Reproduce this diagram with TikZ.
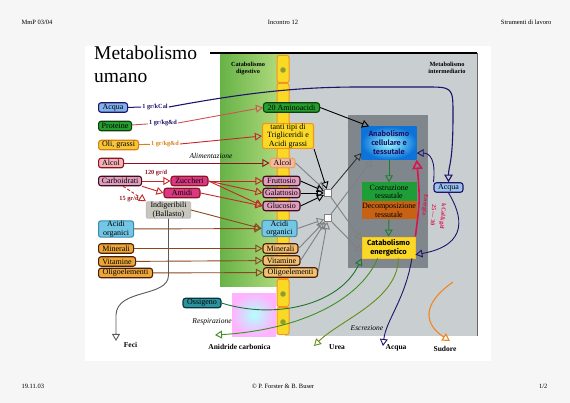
\documentclass[tikz,border=0pt]{standalone}
\usepackage{fontspec}
\setmainfont{Liberation Serif}
\newfontfamily\comicfont{Fira Sans}
\usetikzlibrary{shapes,arrows,positioning}

\definecolor{pagebg}{rgb}{0.965,0.965,0.965}
\definecolor{panelgray}{rgb}{0.79,0.81,0.82}
\definecolor{innergray}{rgb}{0.50,0.53,0.55}
\definecolor{bandgreen}{rgb}{0.40,0.70,0.28}
\definecolor{bandlight}{rgb}{0.74,0.88,0.52}
\definecolor{navy}{rgb}{0.13,0.07,0.42}
\definecolor{waterblue}{rgb}{0.50,0.70,0.92}
\definecolor{protgreen}{rgb}{0.15,0.62,0.18}
\definecolor{leafdark}{rgb}{0.05,0.25,0.05}
\definecolor{oilyellow}{rgb}{0.96,0.78,0.22}
\definecolor{oilorange}{rgb}{0.85,0.50,0.08}
\definecolor{alcpink}{rgb}{0.95,0.70,0.72}
\definecolor{winered}{rgb}{0.55,0.08,0.12}
\definecolor{carbmauve}{rgb}{0.88,0.62,0.75}
\definecolor{plum}{rgb}{0.25,0.05,0.12}
\definecolor{sugarmag}{rgb}{0.85,0.22,0.52}
\definecolor{fibregray}{rgb}{0.78,0.78,0.74}
\definecolor{acidblue}{rgb}{0.45,0.78,0.90}
\definecolor{acidteal}{rgb}{0.20,0.55,0.70}
\definecolor{minorange}{rgb}{0.93,0.65,0.22}
\definecolor{minbrown}{rgb}{0.30,0.12,0.02}
\definecolor{colyellow}{rgb}{0.98,0.85,0.15}
\definecolor{colorange}{rgb}{0.96,0.58,0.10}
\definecolor{cololive}{rgb}{0.55,0.62,0.18}
\definecolor{peach}{rgb}{0.96,0.72,0.62}
\definecolor{anabblue}{rgb}{0.05,0.45,0.85}
\definecolor{buildgreen}{rgb}{0.12,0.62,0.22}
\definecolor{breakbrown}{rgb}{0.78,0.38,0.08}
\definecolor{energyred}{rgb}{0.85,0.08,0.30}
\definecolor{pathgreen}{rgb}{0.12,0.45,0.18}
\definecolor{ureaolive}{rgb}{0.40,0.55,0.10}
\definecolor{sweatorange}{rgb}{0.95,0.52,0.12}
\definecolor{oxteal}{rgb}{0.16,0.58,0.62}
\definecolor{linered}{rgb}{0.78,0.15,0.15}
\definecolor{linebrown}{rgb}{0.55,0.28,0.12}

\newcommand{\boxfont}{\fontsize{8}{8.5}\selectfont}
\newcommand{\tagfont}{\fontsize{6.3}{6.8}\selectfont\bfseries}
\newcommand{\headfont}{\fontsize{6.5}{7}\selectfont}

\tikzstyle{food} = [rectangle, draw, rounded corners=2.5pt, line width=1.1pt,
    inner xsep=1.2pt, inner ysep=0.3pt, minimum height=9.5pt, font=\boxfont, align=center]
\tikzstyle{junction} = [rectangle, draw=gray, line width=1.2pt, fill=white,
    minimum size=7pt, inner sep=0pt]
\tikzstyle{stage} = [rectangle, minimum width=55pt, inner sep=0pt, align=center, font=\boxfont]
\tikzstyle{amount} = [font=\tagfont, inner sep=1pt]
\tikzstyle{outlet} = [font=\fontsize{7.5}{8}\selectfont\bfseries, inner sep=0pt]
\tikzstyle{process} = [font=\fontsize{7.5}{8}\selectfont\itshape, inner sep=0pt]
\tikzstyle{energy} = [font=\fontsize{6}{6.5}\selectfont\bfseries, text=energyred, inner sep=0pt, rotate=-95]
\tikzstyle{line} = [draw, line width=0.9pt, -open triangle 60]

\begin{document}
\begin{tikzpicture}[x=1pt, y=-1pt]
    \useasboundingbox (0,0) rectangle (570,403);
    % Background
    \fill[pagebg] (0,0) rectangle (570,403);
    \fill[white] (85,46) rectangle (491,361);
    \fill[panelgray] (285,54) rectangle (477,336);
    \shade[left color=bandgreen, right color=bandlight] (220,54) rectangle (289,287);
    \shade[inner color=cyan!30, outer color=magenta!30] (232,293) rectangle (276,336);
    \fill[innergray] (348,115) rectangle (428,268);
    \draw[line width=1.3pt] (210,53) -- (477,53);
    \draw[line width=1pt, black!60] (477,53) -- (477,336);
    \foreach \y in {55,83,...,307}
        \draw[colorange, fill=colyellow, line width=1pt, rounded corners=2pt] (277,\y+0.5) rectangle (289,\y+27.5);
    \foreach \y in {70,294,322}
        \fill[cololive] (283,\y) circle (2.8);

    % Titles
    \node[anchor=north west, inner sep=0pt, align=left, font=\fontsize{19.5}{23}\selectfont] (title) at (94,46) {Metabolismo\\umano};
    \node[font=\fontsize{6.3}{7}\selectfont\bfseries, align=center] (digest) at (248,69) {Catabolismo\\digestivo};
    \node[font=\fontsize{6.3}{7}\selectfont\bfseries, align=center] (interm) at (447,68) {Metabolismo\\intermediario};
    \node[font=\headfont, anchor=west] (course) at (18,22) {MmP 03/04};
    \node[font=\headfont] (meeting) at (283,22) {Incontro 12};
    \node[font=\headfont, anchor=east] (topic) at (555,22) {Strumenti di lavoro};
    \node[font=\headfont, anchor=west] (date) at (18,386) {19.11.03};
    \node[font=\headfont] (authors) at (283,386) {© P. Forster \& B. Buser};
    \node[font=\headfont, anchor=east] (page) at (551,386) {1/2};

    % Place nodes: food intake
    \node[food, fill=waterblue, draw=navy, anchor=west, minimum width=29pt] (acqua) at (98,107.5) {Acqua};
    \node[food, fill=protgreen, draw=leafdark, anchor=west, minimum width=33pt] (proteine) at (98,126) {Proteine};
    \node[food, fill=oilyellow, draw=oilorange, anchor=west, minimum width=40pt] (oli) at (98,145) {Oli, grassi};
    \node[food, fill=alcpink, draw=winered, anchor=west, minimum width=25pt] (alcol) at (98,163) {Alcol};
    \node[food, fill=carbmauve, draw=plum, anchor=west, minimum width=43pt] (carbo) at (98,181) {Carboidrati};
    \node[food, fill=sugarmag, draw=winered, minimum width=37pt] (zuccheri) at (189.5,181) {Zuccheri};
    \node[food, fill=sugarmag, draw=winered, minimum width=36pt] (amidi) at (182,193) {Amidi};
    \node[food, fill=fibregray, draw=gray!50, rounded corners=1pt, minimum width=44pt] (indig) at (168.5,210) {Indigeribili\\(Ballasto)};
    \node[food, fill=acidblue, draw=acidteal, anchor=west, minimum width=35pt] (acidi) at (98,229) {Acidi\\organici};
    \node[food, fill=minorange, draw=minbrown, anchor=west, minimum width=35pt] (minerali) at (98,248.5) {Minerali};
    \node[food, fill=minorange, draw=minbrown, anchor=west, minimum width=37pt] (vitamine) at (98,261.5) {Vitamine};
    \node[food, fill=minorange, draw=minbrown, anchor=west, minimum width=54pt] (oligo) at (98,273) {Oligoelementi};
    \node[amount, navy] (kcal) at (155,107) {1 gr/kCal};
    \node[amount, navy] (protdose) at (163,123) {1 gr/kg\&d};
    \node[amount, oilorange] (oildose) at (165,144) {1 gr/kg\&d};
    \node[amount, winered] (carbdose) at (156,173) {120 gr/d};
    \node[amount, winered] (fibredose) at (129,199) {15 gr/d};
    \node[process] (alim) at (211,156) {Alimentazione};

    % Place nodes: digested
    \node[food, fill=protgreen, draw=leafdark, minimum width=56pt] (amino) at (291.5,107.5) {20 Aminoacidi};
    \node[food, fill=colyellow, draw=colorange, minimum width=51pt, rounded corners=2pt] (trig) at (288,136) {tanti tipi di\\Trigliceridi e\\Acidi grassi};
    \node[food, fill=peach, draw=oilorange!70, minimum width=25pt] (alcol2) at (282.5,163) {Alcol};
    \node[food, fill=carbmauve, draw=plum, minimum width=37pt] (frutt) at (281.5,181) {Fruttosio};
    \node[food, fill=carbmauve, draw=plum, minimum width=37pt] (galat) at (281.5,193) {Galattosio};
    \node[food, fill=carbmauve, draw=plum, minimum width=37pt] (gluc) at (281.5,206) {Glucosio};
    \node[food, fill=acidblue, draw=acidblue!70!black, minimum width=35pt] (acidi2) at (279.5,228.5) {Acidi\\organici};
    \node[food, fill=minorange!70, draw=minbrown, minimum width=35pt] (minerali2) at (280.5,248.5) {Minerali};
    \node[food, fill=minorange!70, draw=minbrown, minimum width=37pt] (vitamine2) at (281.5,260.5) {Vitamine};
    \node[food, fill=minorange!70, draw=minbrown, minimum width=54pt] (oligo2) at (290.5,272.5) {Oligoelementi};
    \node[junction] (j1) at (328,193) {};
    \node[junction] (j2) at (328,218) {};

    % Place nodes: intermediate metabolism
    \node[stage, minimum height=33pt, shade, inner color=cyan!40, outer color=anabblue, text=navy,
        font=\comicfont\fontsize{7.5}{9}\selectfont\bfseries] (anab) at (389,143) {Anabolismo\\cellulare e\\tessutale};
    \node[stage, minimum height=19pt, fill=buildgreen] (costr) at (389,192) {Costruzione\\tessutale};
    \node[stage, minimum height=18pt, fill=breakbrown] (decomp) at (389,210.5) {Decomposizione\\tessutale};
    \node[stage, minimum width=53pt, minimum height=21pt, fill=colyellow, draw=colyellow!80!orange, line width=0.8pt,
        font=\comicfont\fontsize{7.5}{9}\selectfont\bfseries] (catab) at (388.5,247.5) {Catabolismo\\energetico};
    \node[food, fill=waterblue!80, draw=navy, minimum width=29pt] (acquaR) at (448.5,187.5) {Acqua};
    \node[energy] (energia) at (425,205) {Energia};
    \node[energy] (energyrange) at (433.5,215) {25 --- 30};
    \node[energy] (energyunit) at (442.5,216.5) {kCal/kg/d};

    % Place nodes: outputs
    \node[food, fill=oxteal, draw=leafdark!80!blue, minimum width=38pt] (ossigeno) at (202,303) {Ossigeno};
    \node[process] (resp) at (212,322) {Respirazione};
    \node[process] (escr) at (367,328) {Escrezione};
    \node[outlet] (co2) at (239.5,347) {Anidride carbonica};
    \node[outlet] (urea) at (337,347) {Urea};
    \node[outlet] (acquaout) at (396,348) {Acqua};
    \node[outlet] (sudore) at (445,349) {Sudore};
    \node[outlet] (feci) at (130.5,345) {Feci};
    \coordinate (co2tip) at (215,335);
    \coordinate (ureatip) at (314,346);
    \coordinate (watertip) at (383,346);
    \coordinate (sweatsrc) at (453,282);
    \coordinate (sweattip) at (450,341);
    \coordinate (fecitip) at (116,341);

    % Draw edges: intake
    \draw[navy, line width=1pt] (acqua) -- (kcal);
    \path [line, navy, line width=1.1pt] (kcal.east) .. controls (250,92) and (300,87) .. (360,87) -- (425,87)
        .. controls (453,87) .. (453,115) .. controls (453,165) and (448.5,165) .. (acquaR.north);
    \draw[linered!80, line width=0.9pt] (proteine) -- (protdose);
    \path [line, linered!80] (protdose.east) -- (amino.west);
    \draw[oilorange, line width=0.9pt] (oli) -- (oildose);
    \path [line, linered] (oildose.east) -- (trig.west);
    \path [line, winered] (alcol) -- (alcol2);
    \path [line, linered] (carbo.east) -- (zuccheri.west);
    \path [line, linered] (carbo.south east) -- (amidi.west);
    \path [line, linered, densely dashed] (carbo.-60) -- (indig.north west);
    \path [line, linered] (zuccheri.east) -- (frutt.west);
    \path [line, linered] (zuccheri.east) -- (galat.west);
    \path [line, linered] (zuccheri.east) -- (gluc.west);
    \path [line, linered] (amidi.east) -- (gluc.west);
    \path [line, linebrown] (indig.east) -- (acidi2.west);
    \path [line, linebrown] (acidi) -- (acidi2);
    \path [line, linebrown] (minerali) -- (minerali2);
    \path [line, linebrown] (vitamine) -- (vitamine2);
    \path [line, linebrown] (oligo) -- (oligo2);
    \path [line, gray!70!black] (indig.south) -- (168.5,275) .. controls (168.5,298) and (117,288) .. (116,315) -- (fecitip);

    % Draw edges: to metabolism
    \path [line, black] (amino.east) -- (anab.140);
    \path [line, black] (trig.south east) -- (j1);
    \path [line, gray] (alcol2.east) -- (j1);
    \path [line, black] (frutt.east) -- (j1);
    \path [line, black] (galat.east) -- (j1);
    \path [line, black] (gluc.east) -- (j1);
    \path [line, gray] (acidi2.east) -- (j2);
    \path [line, gray] (minerali2.east) -- (j2);
    \path [line, gray] (vitamine2.east) -- (j2);
    \path [line, gray] (oligo2.east) -- (j2);
    \path [line, black!80] (j1) -- (anab.200);
    \path [line, gray] (j2) -- (anab.225);
    \path [line, gray] (j1) -- (catab.165);
    \path [line, gray] (j2) -- (catab.190);
    \path [line, buildgreen!80!black] (anab) -- (costr);
    \path [line, buildgreen!80!black] (decomp) -- (catab);
    \path [line, energyred, line width=1.6pt] (catab.north east) .. controls (420,200) .. (anab.south east);
    \path [line, navy] (acquaR.north west) .. controls (436,160) and (430,153) .. (anab.-20);
    \path [line, navy] (acquaR.south) .. controls (462,215) and (470,245) .. (catab.-15);

    % Draw edges: outputs
    \path [line, pathgreen] (ossigeno.east) .. controls (275,320) and (340,305) .. (catab.south west);
    \path [line, pathgreen!80!lime] (catab.225) .. controls (360,300) and (300,330) .. (co2tip);
    \path [line, ureaolive] (catab.312) .. controls (398,300) and (340,320) .. (ureatip);
    \path [line, navy] (catab.335) .. controls (405,300) and (386,320) .. (watertip);
    \path [line, sweatorange, line width=1.1pt] (sweatsrc) .. controls (420,305) and (425,325) .. (sweattip);
\end{tikzpicture}
\end{document}
